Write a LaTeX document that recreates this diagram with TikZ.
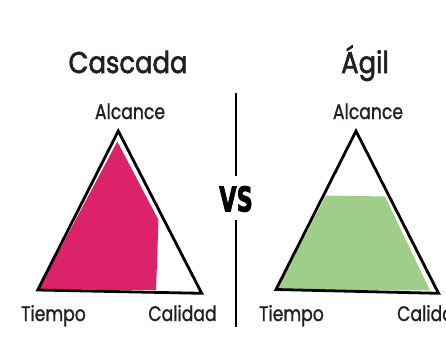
\documentclass[tikz,border=0pt]{standalone}
\usepackage{fontspec}
\setmainfont{Poppins}[FakeBold=2.2]
\newfontfamily\labfont{Poppins}[FakeBold=1.2]
\newfontfamily\vsfont{DejaVu Sans}[FakeBold=3]
\definecolor{pinkfill}{RGB}{220,35,105}
\definecolor{greenfill}{RGB}{158,206,136}
\definecolor{txt}{RGB}{35,31,32}
\tikzset{
  tri/.style={draw=black, line width=2.8pt, line join=miter},
  title/.style={text=txt, font=\fontsize{30}{30}\selectfont, anchor=base, inner sep=0pt, xscale=0.86},
  lbl/.style={text=txt, font=\labfont\fontsize{21}{21}\selectfont, anchor=base, inner sep=0pt, xscale=0.82},
  divider/.style={draw=black, line width=2pt}
}
\begin{document}
\begin{tikzpicture}[x=1pt,y=-1pt]
\useasboundingbox (0,0) rectangle (446,338);
\clip (0,0) rectangle (446,338);
% left triangle
\coordinate (LA) at (118.3,131);
\coordinate (LB) at (37.7,290);
\coordinate (LC) at (201.7,293.3);
\fill[pinkfill] (117.3,141.5) -- (38.5,289.5) -- (156,290) -- (158.5,220) -- cycle;
\draw[tri] (LA) -- (LB) -- (LC) -- cycle;
% right triangle
\coordinate (RA) at (356,131);
\coordinate (RB) at (276,289.5);
\coordinate (RC) at (438.5,293.3);
\fill[greenfill] (326,195.5) -- (385,196.5) -- (430,290.5) -- (277,289.5) -- cycle;
\draw[tri] (RA) -- (RB) -- (RC) -- cycle;
% titles
\node[title] (t1) at (128,73) {Cascada};
\node[title] (t2) at (365,73) {Ágil};
% labels
\node[lbl] (a1) at (130,119) {Alcance};
\node[lbl] (a2) at (368,119) {Alcance};
\node[lbl] (ti1) at (53.5,321) {Tiempo};
\node[lbl] (c1) at (182.5,321) {Calidad};
\node[lbl] (ti2) at (291.5,321) {Tiempo};
\node[lbl, anchor=base west] (c2) at (397,321) {Calidad};
% divider
\coordinate (d1) at (236,93);
\coordinate (d2) at (236,176);
\coordinate (d3) at (236,220);
\coordinate (d4) at (236,327);
\draw[divider] (d1) -- (d2);
\draw[divider] (d3) -- (d4);
\node[font=\vsfont\bfseries\fontsize{34}{34}\selectfont, xscale=0.66, inner sep=0pt] (vs) at (236,199) {VS};
\end{tikzpicture}
\end{document}
